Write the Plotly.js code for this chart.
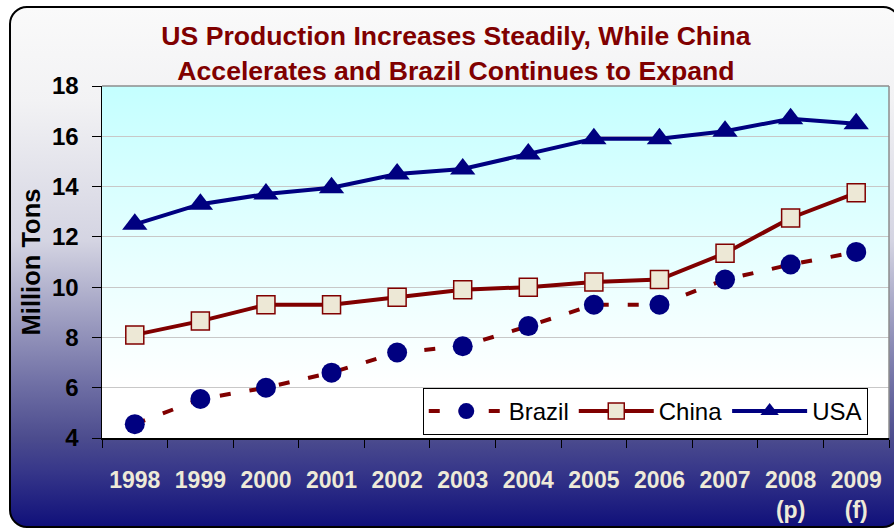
<!DOCTYPE html>
<html>
<head>
<meta charset="utf-8">
<script src="https://cdn.plot.ly/plotly-3.0.1.min.js"></script>
<style>
  html, body { margin: 0; padding: 0; width: 894px; height: 531px; overflow: hidden; background: #ffffff; }
  #frame {
    position: absolute; left: 9px; top: 6px; width: 892px; height: 522px;
    box-sizing: border-box; border: 2px solid #000; border-radius: 18px;
    background: linear-gradient(to bottom, #fafafa 0%, #f2f2f4 18%, #d4d4e2 45%, #6e6ea4 73%, #4c4c8e 83%, #38388a 89%, #10107a 100%);
  }
  #plotbg {
    position: absolute; left: 102px; top: 86px; width: 787px; height: 352px;
    background: linear-gradient(to bottom, #c4ffff 0%, #e8ffff 50%, #ffffff 86%, #ffffff 100%);
  }
  #chart { position: absolute; left: 0; top: 0; width: 894px; height: 531px; }
</style>
</head>
<body>
<div id="frame"></div>
<div id="plotbg"></div>
<div id="chart"></div>
<script>
// ---- data ----
var years = ["1998","1999","2000","2001","2002","2003","2004","2005","2006","2007","2008","2009"];
var tickLabels = ["1998","1999","2000","2001","2002","2003","2004","2005","2006","2007","2008<br>(p)","2009<br>(f)"];
var brazil = [4.55, 5.55, 6.0, 6.6, 7.4, 7.65, 8.45, 9.3, 9.3, 10.3, 10.9, 11.4];
var china  = [8.1, 8.65, 9.3, 9.3, 9.6, 9.9, 10.0, 10.2, 10.3, 11.35, 12.75, 13.75];
var usa    = [12.5, 13.3, 13.7, 13.95, 14.5, 14.7, 15.3, 15.9, 15.9, 16.2, 16.7, 16.5];
var seriesNames = ["Brazil", "China", "USA"];
var titleText = "US Production Increases Steadily, While China<br>Accelerates and Brazil Continues to Expand";
var yTitle = "Million Tons";

var FONT = "Arial, 'Liberation Sans', sans-serif";
var navy = "#000080";
var maroon = "#800000";

var traces = [
  {
    x: tickLabels, y: brazil, name: seriesNames[0], type: "scatter", mode: "lines+markers",
    line: { color: maroon, width: 4, dash: "11px,19px" },
    marker: { symbol: "circle", size: 20, color: navy }
  },
  {
    x: tickLabels, y: china, name: seriesNames[1], type: "scatter", mode: "lines+markers",
    line: { color: maroon, width: 4 },
    marker: { symbol: "square", size: 18, color: "#ede8d6", line: { color: maroon, width: 1.5 } }
  },
  {
    x: tickLabels, y: usa, name: seriesNames[2], type: "scatter", mode: "lines+markers",
    line: { color: navy, width: 4 },
    marker: { symbol: "triangle-up", size: 22, color: navy }
  }
];

var layout = {
  width: 894, height: 531,
  margin: { l: 102, r: 5, t: 86, b: 93 },
  paper_bgcolor: "rgba(0,0,0,0)",
  plot_bgcolor: "rgba(0,0,0,0)",
  font: { family: FONT, color: "#000" },
  title: {
    text: titleText,
    font: { family: FONT, size: 26.6, color: maroon, weight: "bold" },
    xref: "container", x: 0.51, xanchor: "center",
    yref: "container", y: 1 - 45/531, yanchor: "middle"
  },
  showlegend: true,
  legend: {
    orientation: "h",
    x: 0.973, xanchor: "right",
    y: 0.0085, yanchor: "bottom",
    bgcolor: "#ffffff", bordercolor: "#000000", borderwidth: 1,
    font: { family: FONT, size: 24, color: "#000" },
    itemwidth: 75
  },
  xaxis: {
    type: "category",
    range: [-0.5, 11.5],
    showgrid: false,
    showline: true, linecolor: "#000", linewidth: 1.5,
    ticks: "outside", ticklen: 8, tickcolor: "#000", tickwidth: 1,
    tickson: "boundaries",
    tickfont: { family: FONT, size: 23, color: "#eeead8", weight: "bold" },
    ticklabelstandoff: 21,
    fixedrange: true
  },
  yaxis: {
    range: [4, 18], dtick: 2, tick0: 4,
    showgrid: true, gridcolor: "#c8c8c8", gridwidth: 1,
    zeroline: false,
    showline: true, linecolor: "#000", linewidth: 1.5,
    ticks: "outside", ticklen: 9, tickcolor: "#000", tickwidth: 1,
    tickfont: { family: FONT, size: 24, color: "#000", weight: "bold" },
    ticklabelstandoff: 8,
    title: { text: yTitle, font: { family: FONT, size: 25.5, color: "#000", weight: "bold" }, standoff: 4 },
    fixedrange: true
  },
  shapes: [
    { type: "line", xref: "paper", yref: "paper", x0: 0, x1: 1, y0: 1, y1: 1, line: { color: "#8c8c8c", width: 1.5 } },
    { type: "line", xref: "paper", yref: "paper", x0: 1, x1: 1, y0: 0, y1: 1, line: { color: "#8c8c8c", width: 1.5 } }
  ],
  hovermode: false
};

Plotly.newPlot("chart", traces, layout, { displayModeBar: false, staticPlot: true });
</script>
</body>
</html>
